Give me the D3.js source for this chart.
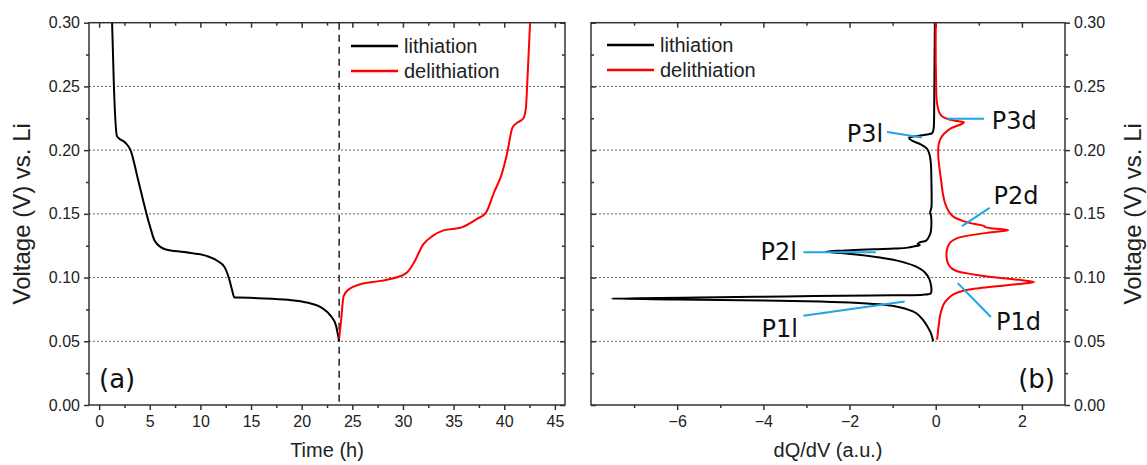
<!DOCTYPE html>
<html><head><meta charset="utf-8">
<script src="https://cdn.jsdelivr.net/npm/d3@7/dist/d3.min.js"></script>
<style>body{margin:0;background:#fff}svg{display:block}</style>
</head><body><svg id="c" width="1147" height="465"></svg>
<script>
// ---------- data ----------
const lithTime  = [1.28,1.46,1.76,2.0,2.56,3.1,3.84,4.68,5.1,5.49,6.59,8.4,10.6,11.7,12.4,12.8,13.1,13.36,13.7,15.7,18.66,20.5,21.95,22.87,23.4,23.7];
const lithVolt  = [0.30,0.25,0.211,0.209,0.206,0.200,0.177,0.150,0.138,0.1288,0.122,0.120,0.117,0.113,0.108,0.100,0.091,0.0843,0.0843,0.0838,0.0825,0.0804,0.0764,0.0699,0.062,0.050];
const delithTime = [23.7,23.86,24.15,24.7,25.8,27.8,29.3,30.4,31.1,32.0,32.9,34.0,35.8,37.3,38.2,39.0,39.7,40.3,40.8,41.2,41.9,42.15,42.26,42.55];
const delithVolt = [0.052,0.064,0.0856,0.091,0.0948,0.0974,0.100,0.104,0.112,0.126,0.1325,0.137,0.1394,0.146,0.151,0.167,0.180,0.198,0.2175,0.221,0.225,0.234,0.25,0.30];
const cutoffTime = 23.7;

const dqLithVolt = [0.30,0.26,0.235,0.222,0.2165,0.2135,0.2122,0.2112,0.2095,0.2075,0.2045,0.201,0.196,0.188,0.175,0.162,0.155,0.151,0.1485,0.142,0.137,0.134,0.129,0.1275,0.1262,0.1255,0.1245,0.1235,0.1228,0.1222,0.1212,0.1203,0.1192,0.1183,0.116,0.1125,0.108,0.104,0.099,0.094,0.0895,0.0875,0.0865,0.086,0.0852,0.0843,0.0835,0.0828,0.0822,0.0815,0.0805,0.079,0.0775,0.0755,0.072,0.067,0.062,0.057,0.053,0.050];
const dqLithVal  = [-0.02,-0.03,-0.035,-0.04,-0.05,-0.08,-0.2,-0.4,-0.62,-0.55,-0.35,-0.2,-0.14,-0.11,-0.1,-0.095,-0.1,-0.13,-0.11,-0.1,-0.11,-0.13,-0.22,-0.38,-0.42,-0.37,-0.5,-0.65,-0.95,-1.45,-2.1,-2.54,-2.2,-1.9,-1.35,-0.8,-0.42,-0.25,-0.15,-0.11,-0.1,-0.12,-0.3,-1.5,-3.5,-5.5,-7.52,-6.0,-4.5,-3.0,-2.0,-1.3,-0.95,-0.7,-0.45,-0.3,-0.2,-0.12,-0.08,-0.06];
const dqDelithVolt = [0.0513,0.055,0.06,0.065,0.07,0.075,0.08,0.084,0.087,0.0895,0.0915,0.093,0.0945,0.0958,0.0965,0.0975,0.099,0.1005,0.102,0.1035,0.105,0.107,0.11,0.114,0.119,0.124,0.128,0.131,0.1335,0.1355,0.1372,0.1385,0.1395,0.1405,0.142,0.1445,0.148,0.152,0.158,0.165,0.175,0.185,0.195,0.202,0.206,0.2095,0.213,0.217,0.2205,0.2218,0.2228,0.224,0.226,0.229,0.233,0.24,0.25,0.27,0.30];
const dqDelithVal  = [0.03,0.045,0.06,0.08,0.1,0.14,0.2,0.3,0.42,0.62,0.95,1.35,1.8,2.15,2.28,2.1,1.7,1.3,0.95,0.7,0.5,0.38,0.3,0.26,0.25,0.28,0.35,0.5,0.85,1.3,1.68,1.35,1.15,1.12,0.9,0.62,0.4,0.3,0.22,0.17,0.13,0.09,0.06,0.06,0.08,0.12,0.2,0.35,0.6,0.66,0.5,0.32,0.17,0.09,0.05,0.02,0.01,0.0,0.0];

const peakNames = ["P3l","P3d","P2d","P2l","P1l","P1d"];
const peakLineX1 = [-1.13,0.27,0.61,-3.07,-3.07,0.51];
const peakLineV1 = [0.2142,0.2246,0.1404,0.1198,0.0700,0.0956];
const peakLineX2 = [-0.32,1.12,1.25,-1.39,-0.72,1.28];
const peakLineV2 = [0.2100,0.2246,0.1547,0.1198,0.0813,0.0690];
const peakTextX  = [-1.22,1.30,1.34,-3.22,-3.20,1.40];
const peakTextV  = [0.2065,0.2165,0.1580,0.1135,0.0535,0.0590];
const peakAnchor = ["end","start","start","end","end","start"];

const voltTicks = [0,0.05,0.10,0.15,0.20,0.25,0.30];
const timeTicks = [0,5,10,15,20,25,30,35,40,45];
const dqTicks = [-6,-4,-2,0,2];
const seriesNames = ["lithiation","delithiation"];
const seriesColors = ["#000000","#ff0000"];

// ---------- layout ----------
const svg = d3.select("#c");
const topY = 22.7, botY = 405;
const A = {l:89, r:565}, B = {l:591, r:1065};
const y = d3.scaleLinear().domain([0,0.30]).range([botY, topY]);
const xA = d3.scaleLinear().domain([-1,46]).range([A.l, A.r]);
const xB = d3.scaleLinear().domain([-8,3]).range([B.l, B.r]);
const tickFont = "'Liberation Sans', Arial, sans-serif";
const frameCol = "#333";

function grid(x0, x1){
  svg.append("g").selectAll("line").data(voltTicks.filter(v=>v>0 && v<0.3)).join("line")
    .attr("x1",x0).attr("x2",x1).attr("y1",d=>y(d)).attr("y2",d=>y(d))
    .attr("stroke","#666").attr("stroke-width",1).attr("stroke-dasharray","2,2");
}
grid(A.l, A.r); grid(B.l, B.r);

function styleAxis(g, labels){
  g.select(".domain").remove();
  g.selectAll(".tick line").attr("stroke",frameCol).attr("stroke-width",1.5);
  g.selectAll(".tick text").attr("font-family",tickFont).attr("font-size",16).attr("fill","#222");
  if(!labels) g.selectAll(".tick text").remove();
}
const minorV = d3.range(0.025,0.30,0.05);
function axes(xs, P, xMajor, xMinor, yLabelSide){
  styleAxis(svg.append("g").attr("transform",`translate(0,${botY})`).call(d3.axisBottom(xs).tickValues(xMajor).tickSize(5).tickPadding(6).tickFormat(d3.format("d"))), true);
  styleAxis(svg.append("g").attr("transform",`translate(0,${botY})`).call(d3.axisBottom(xs).tickValues(xMinor).tickSize(3).tickFormat("")), false);
  styleAxis(svg.append("g").attr("transform",`translate(0,${topY})`).call(d3.axisBottom(xs).tickValues(xMajor).tickSize(5).tickFormat("")), false);
  styleAxis(svg.append("g").attr("transform",`translate(0,${topY})`).call(d3.axisBottom(xs).tickValues(xMinor).tickSize(3).tickFormat("")), false);
  if(yLabelSide==="left"){
    styleAxis(svg.append("g").attr("transform",`translate(${P.l},0)`).call(d3.axisLeft(y).tickValues(voltTicks).tickSize(5).tickPadding(4).tickFormat(d3.format(".2f"))), true);
    styleAxis(svg.append("g").attr("transform",`translate(${P.l},0)`).call(d3.axisLeft(y).tickValues(minorV).tickSize(3).tickFormat("")), false);
    styleAxis(svg.append("g").attr("transform",`translate(${P.r},0)`).call(d3.axisLeft(y).tickValues(voltTicks).tickSize(5).tickFormat("")), false);
    styleAxis(svg.append("g").attr("transform",`translate(${P.r},0)`).call(d3.axisLeft(y).tickValues(minorV).tickSize(3).tickFormat("")), false);
  } else {
    styleAxis(svg.append("g").attr("transform",`translate(${P.r},0)`).call(d3.axisRight(y).tickValues(voltTicks).tickSize(5).tickPadding(4).tickFormat(d3.format(".2f"))), true);
    styleAxis(svg.append("g").attr("transform",`translate(${P.r},0)`).call(d3.axisRight(y).tickValues(minorV).tickSize(3).tickFormat("")), false);
    styleAxis(svg.append("g").attr("transform",`translate(${P.l},0)`).call(d3.axisRight(y).tickValues(voltTicks).tickSize(5).tickFormat("")), false);
    styleAxis(svg.append("g").attr("transform",`translate(${P.l},0)`).call(d3.axisRight(y).tickValues(minorV).tickSize(3).tickFormat("")), false);
  }
  svg.append("rect").attr("x",P.l).attr("y",topY).attr("width",P.r-P.l).attr("height",botY-topY)
    .attr("fill","none").attr("stroke",frameCol).attr("stroke-width",1.5);
}
axes(xA, A, timeTicks, d3.range(2.5,46,5), "left");
axes(xB, B, dqTicks, [-7,-5,-3,-1,1], "right");

// ---------- panel (a) ----------
svg.append("clipPath").attr("id","ca").append("rect").attr("x",A.l).attr("y",topY).attr("width",A.r-A.l).attr("height",botY-topY);
svg.append("clipPath").attr("id","cb").append("rect").attr("x",B.l).attr("y",topY).attr("width",B.r-B.l).attr("height",botY-topY);

svg.append("line").attr("x1",xA(cutoffTime)).attr("x2",xA(cutoffTime)).attr("y1",topY).attr("y2",botY)
  .attr("stroke","#222").attr("stroke-width",1.5).attr("stroke-dasharray","7,5");

const lineA = d3.line().x(d=>xA(d[0])).y(d=>y(d[1])).curve(d3.curveMonotoneX);
const gA = svg.append("g").attr("clip-path","url(#ca)");
gA.append("path").datum(lithTime.map((t,i)=>[t,lithVolt[i]])).attr("d",lineA)
  .attr("fill","none").attr("stroke",seriesColors[0]).attr("stroke-width",2);
gA.append("path").datum(delithTime.map((t,i)=>[t,delithVolt[i]])).attr("d",lineA)
  .attr("fill","none").attr("stroke",seriesColors[1]).attr("stroke-width",2);

// ---------- panel (b) ----------
const lineB = d3.line().x(d=>xB(d[0])).y(d=>y(d[1])).curve(d3.curveCatmullRom.alpha(0.5));
const gB = svg.append("g").attr("clip-path","url(#cb)");
gB.append("path").datum(dqLithVolt.map((v,i)=>[dqLithVal[i],v])).attr("d",lineB)
  .attr("fill","none").attr("stroke",seriesColors[0]).attr("stroke-width",2);
gB.append("path").datum(dqDelithVolt.map((v,i)=>[dqDelithVal[i],v])).attr("d",lineB)
  .attr("fill","none").attr("stroke",seriesColors[1]).attr("stroke-width",2);

// annotations
const labFont = "'DejaVu Sans', Verdana, sans-serif";
peakNames.forEach((n,i)=>{
  svg.append("line").attr("x1",xB(peakLineX1[i])).attr("y1",y(peakLineV1[i]))
    .attr("x2",xB(peakLineX2[i])).attr("y2",y(peakLineV2[i]))
    .attr("stroke","#1fa5e6").attr("stroke-width",2);
  svg.append("text").attr("x",xB(peakTextX[i])).attr("y",y(peakTextV[i]))
    .attr("text-anchor",peakAnchor[i]).attr("font-family",labFont).attr("font-size",24)
    .attr("fill","#111").text(n);
});

// legends
function legend(x0, y0){
  seriesNames.forEach((n,i)=>{
    const yy = y0 + i*25;
    svg.append("line").attr("x1",x0).attr("x2",x0+47).attr("y1",yy).attr("y2",yy)
      .attr("stroke",seriesColors[i]).attr("stroke-width",2.5);
    svg.append("text").attr("x",x0+53).attr("y",yy+7).attr("font-family",tickFont)
      .attr("font-size",20).attr("fill","#222").text(n);
  });
}
legend(351, 46);
legend(607, 45);

// panel letters
svg.append("text").attr("x",99).attr("y",388).attr("font-family",labFont).attr("font-size",26).attr("fill","#111").text("(a)");
svg.append("text").attr("x",1055).attr("y",388).attr("text-anchor","end").attr("font-family",labFont).attr("font-size",26).attr("fill","#111").text("(b)");

// axis titles
svg.append("text").attr("x",(A.l+A.r)/2).attr("y",457).attr("text-anchor","middle").attr("font-family",tickFont).attr("font-size",20).attr("fill","#222").text("Time (h)");
svg.append("text").attr("x",(B.l+B.r)/2).attr("y",457).attr("text-anchor","middle").attr("font-family",tickFont).attr("font-size",20).attr("fill","#222").text("dQ/dV (a.u.)");
svg.append("text").attr("transform",`translate(30,${(topY+botY)/2}) rotate(-90)`).attr("text-anchor","middle").attr("font-family",tickFont).attr("font-size",24).attr("fill","#222").text("Voltage (V) vs. Li");
svg.append("text").attr("transform",`translate(1141,${(topY+botY)/2}) rotate(-90)`).attr("text-anchor","middle").attr("font-family",tickFont).attr("font-size",24).attr("fill","#222").text("Voltage (V) vs. Li");
</script></body></html>
